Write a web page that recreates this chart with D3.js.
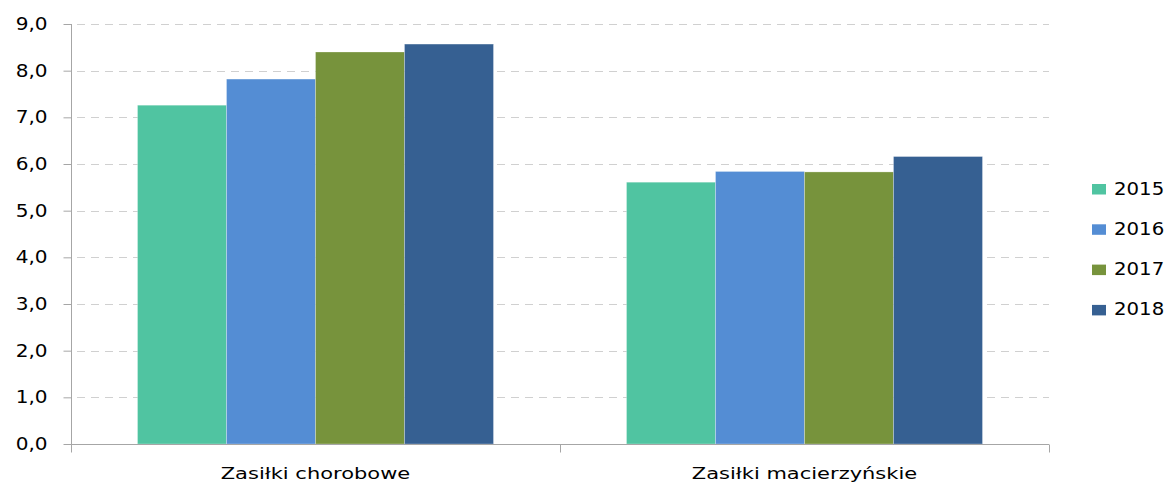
<!DOCTYPE html>
<html><head><meta charset="utf-8">
<script src="https://cdn.jsdelivr.net/npm/d3@7"></script>
<style>body{margin:0;background:#fff}svg{display:block}text{font-family:"DejaVu Sans",Verdana,sans-serif;fill:#000}</style>
</head><body>
<svg id="c" width="1169" height="483"></svg>
<script>
const categories = ["Zasiłki chorobowe", "Zasiłki macierzyńskie"];
const years = ["2015", "2016", "2017", "2018"];
const v2015 = [7.26, 5.61];
const v2016 = [7.82, 5.84];
const v2017 = [8.40, 5.83];
const v2018 = [8.57, 6.16];
const yTicks = [0,1,2,3,4,5,6,7,8,9];
const colors = ["#50C4A1", "#548DD4", "#77933C", "#366092"];

const series = [v2015, v2016, v2017, v2018];
const svg = d3.select("#c");
const m = {l:71, r:1049, t:24, b:444};
const y = d3.scaleLinear().domain([0,9]).range([m.b, m.t]);
const x0 = d3.scaleBand().domain(categories).range([m.l, m.r]).paddingInner(0.272).paddingOuter(0.136);
const x1 = d3.scaleBand().domain(years).range([0, x0.bandwidth()]);

// gridlines
svg.append("g").selectAll("line").data(yTicks.filter(d=>d>0)).join("line")
  .attr("x1", m.l+6).attr("x2", m.r).attr("y1", d=>Math.round(y(d))+0.5).attr("y2", d=>Math.round(y(d))+0.5)
  .attr("stroke", "#d0d0d0").attr("stroke-width", 1).attr("stroke-dasharray", "8,6");

// bars
const g = svg.append("g");
categories.forEach((c, ci) => {
  years.forEach((yr, si) => {
    g.append("rect")
      .attr("x", x0(c) + x1(yr)).attr("width", x1.bandwidth())
      .attr("y", y(series[si][ci])).attr("height", y(0) - y(series[si][ci]))
      .attr("fill", colors[si]).attr("stroke", "rgba(255,255,255,0.35)").attr("stroke-width", 0.8);
  });
});

// y axis
const sxT = 1.18;
const ya = svg.append("g").attr("transform", `translate(${m.l+0.5},0)`)
  .call(d3.axisLeft(y).tickValues(yTicks).tickSize(8).tickPadding(16)
    .tickFormat(d => d3.format(".1f")(d).replace(".", ",")));
ya.select(".domain").attr("stroke", "#a6a6a6").attr("d", `M0,${m.t}V${m.b+8}`);
ya.selectAll(".tick line").attr("stroke", "#a6a6a6");
ya.selectAll(".tick text").attr("font-size", 17).attr("font-family", "DejaVu Sans, Verdana, sans-serif").attr("fill", "#000")
  .attr("x", -24/sxT).attr("transform", `scale(${sxT},1)`);

// x axis
const xa = svg.append("g").attr("transform", `translate(0,${m.b+0.5})`);
xa.append("line").attr("x1", m.l).attr("x2", m.r).attr("stroke", "#a6a6a6");
const bounds = [m.l, (m.l+m.r)/2, m.r];
xa.selectAll("line.t").data(bounds).join("line").attr("class","t")
  .attr("x1", d=>Math.round(d)+0.5).attr("x2", d=>Math.round(d)+0.5).attr("y1", 0).attr("y2", 8).attr("stroke", "#a6a6a6");
xa.selectAll("text").data(categories).join("text")
  .attr("transform", d => `translate(${x0(d) + x0.bandwidth()/2},34) scale(1.4,1)`)
  .attr("text-anchor", "middle").attr("font-size", 15).text(d=>d);

// legend
const lg = svg.append("g").attr("transform", "translate(1092,184)");
years.forEach((yr, i) => {
  const row = lg.append("g").attr("transform", `translate(0,${i*40.3})`);
  row.append("rect").attr("width", 14).attr("height", 10.5).attr("fill", colors[i]);
  row.append("text").attr("transform", "translate(22,10.5) scale(1.16,1)").attr("font-size", 17).text(yr);
});
</script>
</body></html>
